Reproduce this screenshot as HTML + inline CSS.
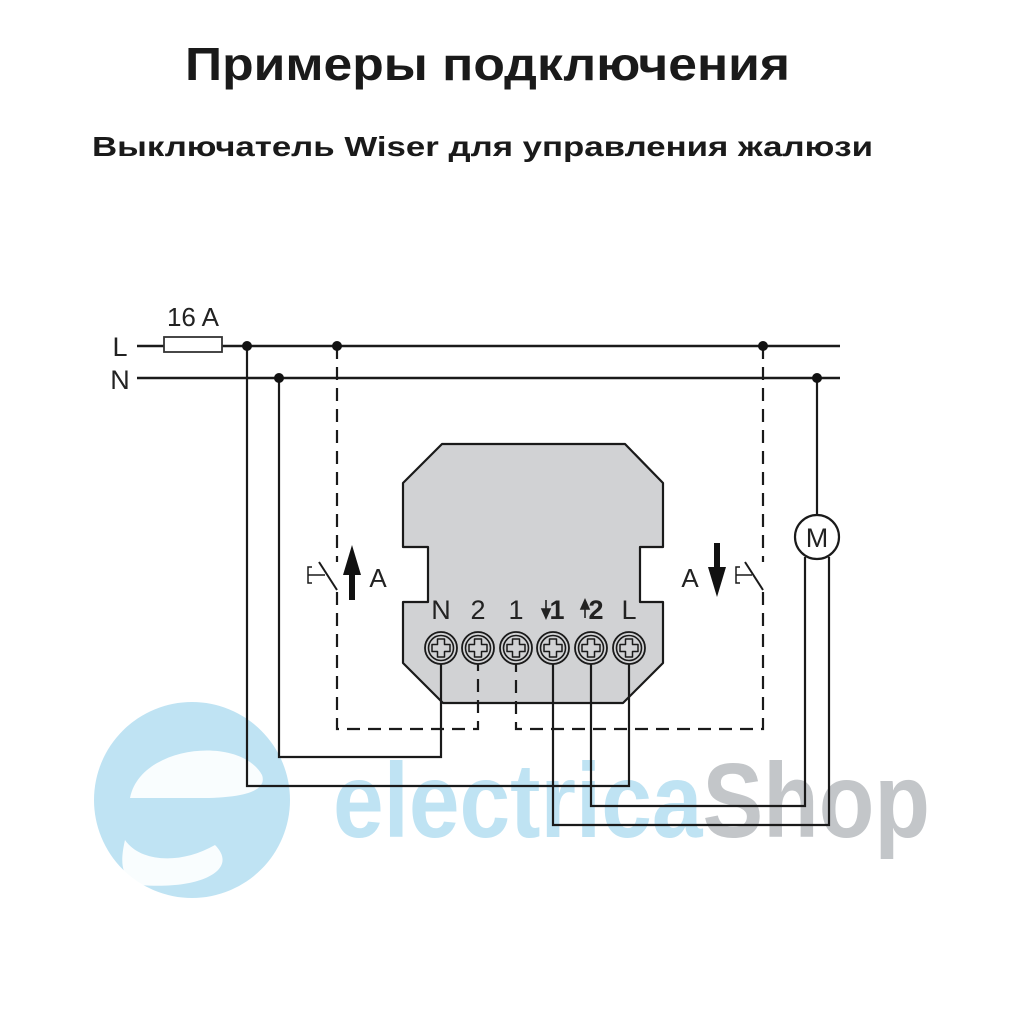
<!DOCTYPE html>
<html><head><meta charset="utf-8"><style>
html,body{margin:0;padding:0;background:#fff;width:1024px;height:1024px;overflow:hidden}
</style></head><body>
<svg width="1024" height="1024" viewBox="0 0 1024 1024" xmlns="http://www.w3.org/2000/svg" font-family="Liberation Sans, sans-serif">
<rect width="1024" height="1024" fill="#fff"/>
<text x="185" y="80" font-size="46" font-weight="bold" fill="#1a1a1a" textLength="605" lengthAdjust="spacingAndGlyphs">Примеры подключения</text>
<text x="92" y="156" font-size="28" font-weight="bold" fill="#1a1a1a" textLength="781" lengthAdjust="spacingAndGlyphs">Выключатель Wiser  для управления жалюзи</text>

<!-- watermark -->
<g>
<circle cx="192" cy="800" r="98" fill="#bfe3f3"/>
<path d="M130 798 C 140 745, 240 735, 262 775 C 268 792, 240 798, 200 798 Z" fill="#fff" opacity="0.9"/>
<path d="M140 885 C 200 890, 240 870, 215 845 C 180 865, 140 862, 125 840 C 118 870, 125 880, 140 885 Z" fill="#fff" opacity="0.9"/>
<text x="333" y="837" font-size="106" font-weight="bold" fill="#bfe3f3" textLength="597" lengthAdjust="spacingAndGlyphs">electrica<tspan fill="#c3c6c9">Shop</tspan></text>
</g>

<g fill="none" stroke="#1a1a1a" stroke-width="2.5">
<line x1="137" y1="346" x2="840" y2="346"/>
<line x1="137" y1="378" x2="840" y2="378"/>
</g>
<rect x="164" y="337" width="58" height="15" fill="#fff" stroke="#333" stroke-width="1.8"/>
<text x="193" y="326" text-anchor="middle" font-size="26" fill="#222">16 A</text>
<text x="120" y="356" text-anchor="middle" font-size="27" fill="#222">L</text>
<text x="120" y="389" text-anchor="middle" font-size="27" fill="#222">N</text>

<!-- device -->
<path d="M442 444 L625 444 L663 483 L663 547 L640 547 L640 602 L663 602 L663 663 L623 703 L443 703 L403 663 L403 602 L428 602 L428 547 L403 547 L403 483 Z" fill="#d1d2d4" stroke="#1a1a1a" stroke-width="2.2" stroke-linejoin="round"/>
<g font-size="27" fill="#222" text-anchor="middle">
<text x="441" y="619">N</text><text x="478" y="619">2</text><text x="516" y="619">1</text>
<text x="557" y="619" font-weight="bold">1</text><text x="596" y="619" font-weight="bold">2</text><text x="629" y="619">L</text>
</g>
<g stroke="#222" stroke-width="1.6" fill="#222">
<line x1="546" y1="600" x2="546" y2="614"/><path d="M542 609 L550 609 L546 618 Z"/>
<line x1="585" y1="604" x2="585" y2="618"/><path d="M581 609 L589 609 L585 600 Z"/>
</g>
<g fill="#d1d2d4" stroke="#1a1a1a" stroke-width="1.8">
<circle cx="441" cy="648" r="16"/><circle cx="478" cy="648" r="16"/><circle cx="516" cy="648" r="16"/>
<circle cx="553" cy="648" r="16"/><circle cx="591" cy="648" r="16"/><circle cx="629" cy="648" r="16"/>
</g>
<g fill="none" stroke="#1a1a1a" stroke-width="1.6">
<circle cx="441" cy="648" r="12.5"/><circle cx="478" cy="648" r="12.5"/><circle cx="516" cy="648" r="12.5"/>
<circle cx="553" cy="648" r="12.5"/><circle cx="591" cy="648" r="12.5"/><circle cx="629" cy="648" r="12.5"/>
</g>
<g fill="none" stroke="#1a1a1a" stroke-width="1.5" stroke-linejoin="round">
<path id="cr" d="M-3.5 -9 L3.5 -9 L3.5 -3.5 L9 -3.5 L9 3.5 L3.5 3.5 L3.5 9 L-3.5 9 L-3.5 3.5 L-9 3.5 L-9 -3.5 L-3.5 -3.5 Z" transform="translate(441 648)"/>
<use href="#cr" transform="translate(37 0)"/><use href="#cr" transform="translate(75 0)"/>
<use href="#cr" transform="translate(112 0)"/><use href="#cr" transform="translate(150 0)"/><use href="#cr" transform="translate(188 0)"/>
</g>

<g fill="none" stroke="#1a1a1a" stroke-width="2.2">
<polyline points="247,346 247,786 629,786 629,664"/>
<polyline points="279,378 279,757 441,757 441,664"/>
<polyline points="817,378 817,515"/>
<circle cx="817" cy="537" r="22" fill="#fff"/>
<polyline points="805,557 805,806 591,806 591,664"/>
<polyline points="829,557 829,825 553,825 553,664"/>
</g>
<text x="817" y="547" text-anchor="middle" font-size="27" fill="#222">M</text>

<g fill="none" stroke="#1a1a1a" stroke-width="2.2" stroke-dasharray="13 8">
<polyline points="337,346 337,562"/>
<polyline points="337,592 337,729 478,729 478,664"/>
<polyline points="763,346 763,562"/>
<polyline points="763,592 763,729 516,729 516,664"/>
</g>
<g fill="none" stroke="#1a1a1a" stroke-width="2">
<line x1="337" y1="590" x2="319" y2="562"/>
<path d="M312 567 L308 567 L308 583 L312 583 M308 575 L325 575" stroke-width="1.5"/>
<line x1="763" y1="590" x2="745" y2="562"/>
<path d="M740 567 L736 567 L736 583 L740 583 M736 575 L752 575" stroke-width="1.5"/>
</g>
<g fill="#111">
<rect x="349" y="570" width="6" height="30"/><path d="M343 575 L352 545 L361 575 Z"/>
<rect x="714" y="543" width="6" height="30"/><path d="M708 567 L726 567 L717 597 Z"/>
</g>
<text x="378" y="587" text-anchor="middle" font-size="26" fill="#222">A</text>
<text x="690" y="587" text-anchor="middle" font-size="26" fill="#222">A</text>

<g fill="#111">
<circle cx="247" cy="346" r="5"/><circle cx="337" cy="346" r="5"/><circle cx="763" cy="346" r="5"/>
<circle cx="279" cy="378" r="5"/><circle cx="817" cy="378" r="5"/>
</g>
</svg>
</body></html>
